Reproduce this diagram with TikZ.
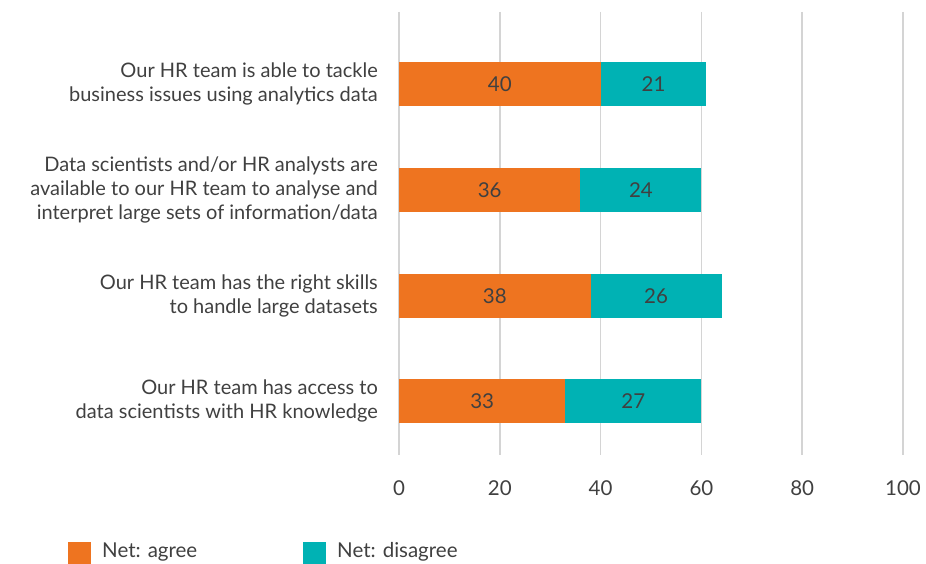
\documentclass[tikz,border=0pt]{standalone}
\usepackage{fontspec}
\setmainfont{Lato}
\definecolor{agree}{RGB}{238,116,32}
\definecolor{disagree}{RGB}{0,178,180}
\definecolor{grid}{RGB}{212,212,212}
\definecolor{txt}{RGB}{64,64,64}
\begin{document}
\begin{tikzpicture}[x=1pt,y=-1pt,
  gridline/.style={draw=grid,line width=1.6pt},
  agreebar/.style={fill=agree,draw=none},
  disbar/.style={fill=disagree,draw=none},
  val/.style={text=txt,font=\fontsize{20.5}{23}\selectfont,inner sep=0pt},
  cat/.style={text=txt,font=\fontsize{20}{24}\selectfont,align=right,anchor=east,inner sep=0pt},
  tick/.style={text=txt,font=\fontsize{20.5}{23}\selectfont,inner sep=0pt},
  legtext/.style={text=txt,font=\fontsize{20.5}{23}\selectfont,anchor=west,inner sep=0pt}]
\useasboundingbox (0,0) rectangle (926,564);
\def\ux{5.04}
% gridlines and ticks
\foreach \v in {0,20,40,60,80,100}{
  \draw[gridline] ({399+\ux*\v},12) -- ({399+\ux*\v},455);
  \node[tick] (t\v) at ({399+\ux*\v},488) {\v};
}
% bars
\foreach \i/\yc/\a/\d in {1/84/40/21,2/190/36/24,3/296/38/26,4/401/33/27}{
  \fill[agreebar] (399,\yc-22) rectangle ({399+\ux*\a},\yc+22);
  \fill[disbar] ({399+\ux*\a},\yc-22) rectangle ({399+\ux*(\a+\d)},\yc+22);
  \node[val] (a\i) at ({399+\ux*\a/2},\yc) {\a};
  \node[val] (d\i) at ({399+\ux*(\a+\d/2)},\yc) {\d};
}
% category labels
\node[cat] (c1) at (378,84) {Our HR team is able to tackle\\business issues using analytics data};
\node[cat] (c2) at (378,190) {Data scientists and/or HR analysts are\\available to our HR team to analyse and\\interpret large sets of information/data};
\node[cat] (c3) at (378,296) {Our HR team has the right skills\\to handle large datasets};
\node[cat] (c4) at (378,401) {Our HR team has access to\\data scientists with HR knowledge};
% legend
\fill[agree] (68,542) rectangle (91,565);
\node[legtext] (la) at (102,552) {Net: agree};
\fill[disagree] (303,542) rectangle (326,565);
\node[legtext] (ld) at (337,552) {Net: disagree};
\end{tikzpicture}
\end{document}
